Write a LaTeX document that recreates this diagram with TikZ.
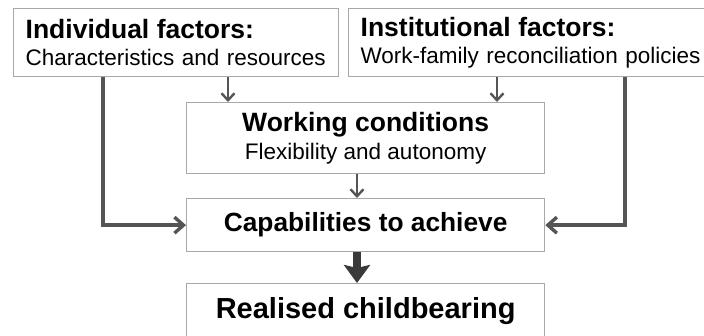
\documentclass[tikz,border=0pt]{standalone}
\usepackage{fontspec}
\setmainfont{Liberation Sans}
\usetikzlibrary{arrows.meta}

\definecolor{boxgray}{HTML}{A8A8A8}
\definecolor{linkgray}{HTML}{555555}
\definecolor{boldgray}{HTML}{3A3A3A}

\tikzset{
    factorbox/.style={draw=boxgray, line width=1.3pt, anchor=north west, minimum height=68pt,
        inner xsep=12pt, inner ysep=0pt, align=left, font=\fontsize{22.5}{27}\selectfont},
    stagebox/.style={draw=boxgray, line width=1.3pt, anchor=north west, minimum width=358pt,
        inner ysep=0pt, align=center},
    thinarrow/.style={draw=linkgray, line width=2.4pt, -{Straight Barb[length=7pt, width=13pt]}},
    linkarrow/.style={draw=linkgray, line width=3.4pt, -{Straight Barb[length=9pt, width=16pt]}},
    boldarrow/.style={draw=boldgray, line width=8.5pt, -{Stealth[length=18pt, width=26pt, inset=3pt]}}
}

\newcommand{\headline}[1]{{\bfseries\fontsize{26.5}{27}\selectfont #1}}

\begin{document}
\begin{tikzpicture}[x=1pt, y=-1pt]
            \useasboundingbox (0, 0) rectangle (704, 335);

            \node[factorbox, text width=301pt] (indiv) at (13, 8)
                {\headline{Individual factors:}\\Characteristics and resources};

            \node[factorbox, text width=348pt] (inst) at (348, 8)
                {\headline{Institutional factors:}\\Work-family reconciliation policies};

            \node[stagebox, minimum height=71pt, font=\fontsize{22.5}{28}\selectfont] (work) at (186, 102)
                {\headline{Working conditions}\\Flexibility and autonomy};

            \node[stagebox, minimum height=53pt, font=\bfseries\fontsize{26.3}{28}\selectfont] (cap) at (186, 198)
                {Capabilities to achieve};

            \node[stagebox, minimum height=55pt, font=\bfseries\fontsize{29}{30}\selectfont] (real) at (186, 283)
                {Realised childbearing};

            \draw[thinarrow] (228, 0 |- indiv.south) -- (228, 0 |- work.north);

            \draw[thinarrow] (497, 0 |- inst.south) -- (497, 0 |- work.north);

            \draw[thinarrow] (357, 0 |- work.south) -- (357, 0 |- cap.north);

            \draw[linkarrow] (103, 0 |- indiv.south) |- (cap.west);

            \draw[linkarrow] (625, 0 |- inst.south) |- (cap.east);

            \draw[boldarrow] (357, 0 |- cap.south) -- (357, 0 |- real.north);
        \end{tikzpicture}
\end{document}
